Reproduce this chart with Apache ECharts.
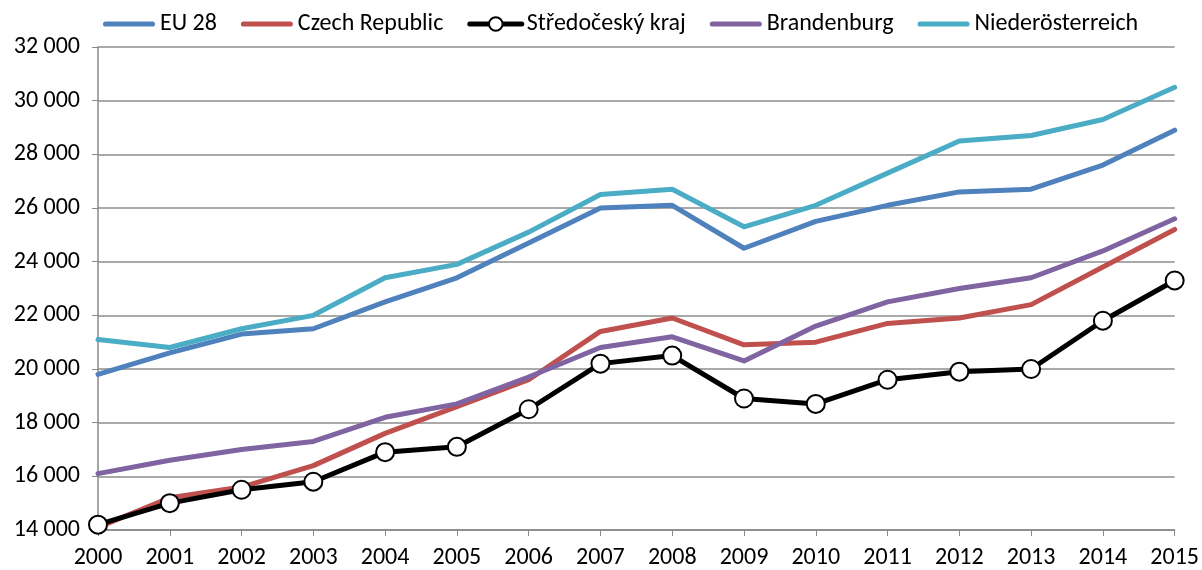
<!DOCTYPE html>
<html>
<head>
<meta charset="utf-8">
<script src="https://cdn.jsdelivr.net/npm/echarts@6/dist/echarts.min.js"></script>
<style>
	html, body { margin: 0; padding: 0; background: #fff; }
	#chart { width: 1202px; height: 570px; }
</style>
</head>
<body>
<div id="chart"></div>
<script>
// roky a hodnoty
const years = ['2000', '2001', '2002', '2003', '2004', '2005', '2006', '2007',
	'2008', '2009', '2010', '2011', '2012', '2013', '2014', '2015'];
const eu28 = [19800, 20600, 21300, 21500, 22500, 23400, 24700, 26000, 26100, 24500, 25500, 26100, 26600, 26700, 27600, 28900];
const czech = [14100, 15200, 15600, 16400, 17600, 18600, 19600, 21400, 21900, 20900, 21000, 21700, 21900, 22400, 23800, 25200];
const stredocesky = [14200, 15000, 15500, 15800, 16900, 17100, 18500, 20200, 20500, 18900, 18700, 19600, 19900, 20000, 21800, 23300];
const brandenburg = [16100, 16600, 17000, 17300, 18200, 18700, 19700, 20800, 21200, 20300, 21600, 22500, 23000, 23400, 24400, 25600];
const niederoesterreich = [21100, 20800, 21500, 22000, 23400, 23900, 25100, 26500, 26700, 25300, 26100, 27300, 28500, 28700, 29300, 30500];

const fontName = 'Carlito, Lato, "Open Sans", sans-serif';
const barIcon = 'path://M2.5,0 L47.5,0 A2.5,2.5 0 0 1 47.5,5 L2.5,5 A2.5,2.5 0 0 1 2.5,0 Z';

let myChart = echarts.init(document.getElementById('chart'));

function plainLine(name, data, color) {
	return {
		name: name,
		type: 'line',
		data: data,
		symbol: 'none',
		showSymbol: false,
		color: color,
		lineStyle: { width: 5, color: color, cap: 'round', join: 'round' },
		z: 2
	};
}

let option = {
	animation: false,
	textStyle: { fontFamily: fontName },
	legend: {
		top: 7,
		left: 98,
		itemWidth: 52,
		itemHeight: 17,
		itemGap: 24,
		lineStyle: { width: 5 },
		textStyle: { fontFamily: fontName, fontSize: 24, color: '#000' },
		data: [
			{ name: 'EU 28', icon: barIcon },
			{ name: 'Czech Republic', icon: barIcon },
			{ name: 'Středočeský kraj' },
			{ name: 'Brandenburg', icon: barIcon },
			{ name: 'Niederösterreich', icon: barIcon }
		]
	},
	grid: {
		left: 98,
		right: 26,
		top: 47,
		bottom: 40
	},
	xAxis: {
		type: 'category',
		data: years,
		boundaryGap: false,
		axisLine: { lineStyle: { color: '#888', width: 1.5 } },
		axisTick: { show: true, alignWithLabel: true, length: 6, lineStyle: { color: '#888' } },
		axisLabel: { fontFamily: fontName, fontSize: 24, color: '#000', margin: 16 },
		splitLine: { show: false }
	},
	yAxis: {
		type: 'value',
		min: 14000,
		max: 32000,
		interval: 2000,
		axisLine: { show: true, lineStyle: { color: '#888', width: 1.5 } },
		axisTick: { show: true, length: 6, lineStyle: { color: '#888' } },
		axisLabel: {
			fontFamily: fontName, fontSize: 24, color: '#000', margin: 18,
			formatter: function(v) {
				return String(v).replace(/\B(?=(\d{3})+(?!\d))/g, ' ');
			}
		},
		splitLine: { lineStyle: { color: '#8c8c8c', width: 1.5 } }
	},
	series: [
		plainLine('EU 28', eu28, '#4f81bd'),
		plainLine('Czech Republic', czech, '#c0504d'),
		{
			name: 'Středočeský kraj',
			type: 'line',
			data: stredocesky,
			symbol: 'circle',
			symbolSize: 18,
			showSymbol: true,
			color: '#000',
			itemStyle: { color: '#fff', borderColor: '#000', borderWidth: 2 },
			lineStyle: { width: 5, color: '#000', cap: 'round', join: 'round' },
			z: 5
		},
		plainLine('Brandenburg', brandenburg, '#8064a2'),
		plainLine('Niederösterreich', niederoesterreich, '#4bacc6')
	]
};

option && myChart.setOption(option);
</script>
</body>
</html>
